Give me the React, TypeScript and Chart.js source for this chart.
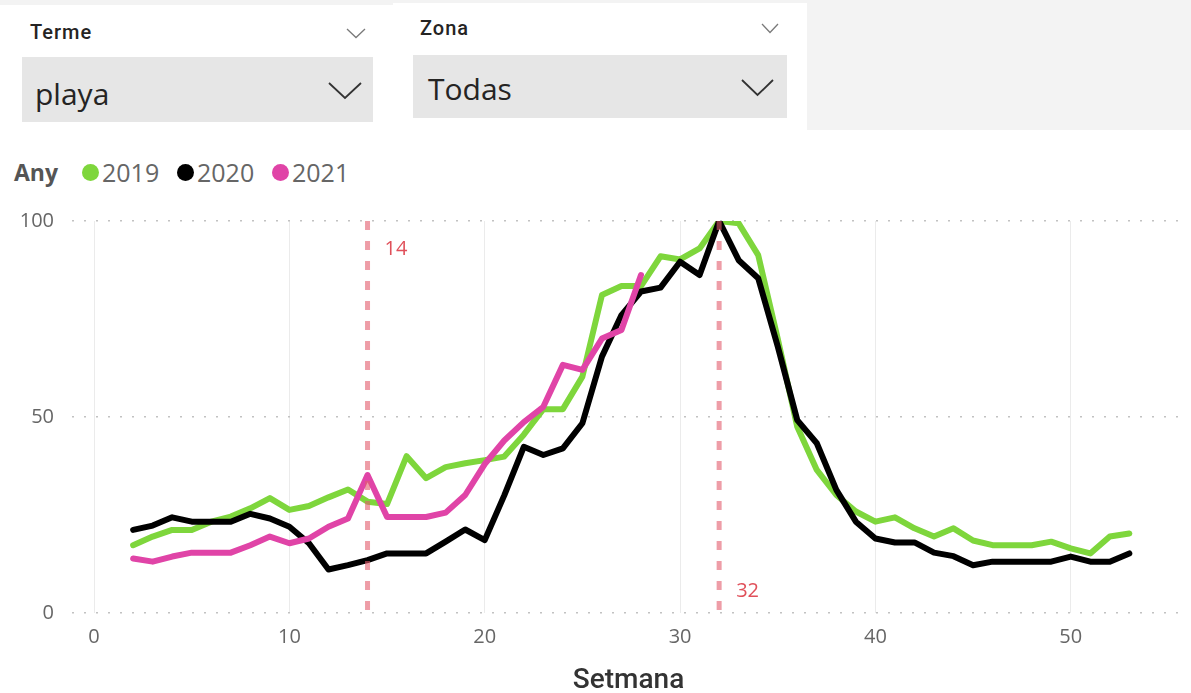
import React, { useEffect, useRef } from "react";
import { Chart, registerables } from "chart.js";

Chart.register(...registerables);

// ---- data ----
const weeks = [2, 3, 4, 5, 6, 7, 8, 9, 10, 11, 12, 13, 14, 15, 16, 17, 18, 19, 20, 21, 22, 23, 24, 25, 26, 27, 28, 29, 30, 31, 32, 33, 34, 35, 36, 37, 38, 39, 40, 41, 42, 43, 44, 45, 46, 47, 48, 49, 50, 51, 52, 53];
const weeks2021 = [2, 3, 4, 5, 6, 7, 8, 9, 10, 11, 12, 13, 14, 15, 16, 17, 18, 19, 20, 21, 22, 23, 24, 25, 26, 27, 28];

const values2019 = [17.3, 19.5, 21.2, 21.2, 23.3, 24.6, 26.7, 29.3, 26.3, 27.3, 29.5, 31.5, 28.4, 27.8, 40, 34.4, 37.2, 38.2, 39, 39.9, 45.5, 52, 52, 60.3, 81.1, 83.4, 83.4, 91, 90.2, 93, 100, 99.4, 91.3, 70, 47.5, 36.5, 30.1, 25.9, 23.3, 24.4, 21.6, 19.5, 21.6, 18.5, 17.3, 17.3, 17.3, 18.2, 16.5, 15.2, 19.5, 20.3];
const values2020 = [21.2, 22.3, 24.4, 23.3, 23.3, 23.3, 25.3, 24.1, 22, 17.8, 11.1, 12.2, 13.5, 15.2, 15.2, 15.2, 18.2, 21.3, 18.6, 30, 42.4, 40.3, 42, 48.4, 65.4, 76, 82, 83, 89.6, 86.2, 100, 90, 85.4, 68, 49.2, 43.3, 31.4, 23.3, 19, 18, 18, 15.4, 14.5, 12.2, 13.1, 13.1, 13.1, 13.1, 14.4, 13.1, 13.1, 15.2];
const values2021 = [13.9, 13.1, 14.4, 15.4, 15.4, 15.4, 17.3, 19.5, 17.8, 19, 22, 24.1, 35.2, 24.5, 24.5, 24.5, 25.6, 30.1, 38, 44, 48.7, 52.6, 63.3, 62, 70, 72.2, 86.2];

const seriesLabels = ["2019", "2020", "2021"];
const seriesColors = ["#7ed63c", "#000000", "#e044a7"];

const xTicks = [0, 10, 20, 30, 40, 50];
const yTicks = [0, 50, 100];

const refWeeks = [14, 32];
const refLabelPlaces = ["top", "bottom"];

const legendTitle = "Any";
const xTitle = "Setmana";
const slicer1Title = "Terme";
const slicer1Value = "playa";
const slicer2Title = "Zona";
const slicer2Value = "Todas";

const toPoints = (xs: number[], ys: number[]) => xs.map((x, i) => ({ x, y: ys[i] }));

const refLinePlugin = {
  id: "refLines",
  afterDatasetsDraw(chart: any) {
    const { ctx, chartArea, scales } = chart;
    refWeeks.forEach((w, i) => {
      const x = scales.x.getPixelForValue(w);
      ctx.save();
      ctx.strokeStyle = "rgba(226, 92, 108, 0.6)";
      ctx.lineWidth = 5;
      ctx.setLineDash([9, 11]);
      ctx.beginPath();
      ctx.moveTo(x, chartArea.top);
      ctx.lineTo(x, chartArea.bottom);
      ctx.stroke();
      ctx.setLineDash([]);
      ctx.fillStyle = "#e0505a";
      ctx.font = "20px 'Open Sans'";
      ctx.textAlign = "left";
      ctx.textBaseline = "middle";
      const y = refLabelPlaces[i] === "top" ? chartArea.top + 28 : chartArea.bottom - 22;
      ctx.fillText(String(w), x + 17, y);
      ctx.restore();
    });
  },
};

function LineChart() {
  const ref = useRef<HTMLCanvasElement | null>(null);
  useEffect(() => {
    if (!ref.current) return;
    const allValues = [values2019, values2020, values2021];
    const allWeeks = [weeks, weeks, weeks2021];
    const orders = [3, 2, 1];
    const chart = new Chart(ref.current, {
      type: "line",
      data: {
        datasets: seriesLabels.map((label, i) => ({
          label,
          data: toPoints(allWeeks[i], allValues[i]),
          borderColor: seriesColors[i],
          backgroundColor: seriesColors[i],
          borderWidth: 6,
          pointRadius: 0,
          tension: 0,
          borderJoinStyle: "round",
          borderCapStyle: "round",
          order: orders[i],
        })),
      },
      options: {
        animation: false,
        responsive: false,
        events: [],
        layout: { padding: { top: 21, right: 6, left: 0, bottom: 0 } },
        plugins: { legend: { display: false }, tooltip: { enabled: false } },
        scales: {
          x: {
            type: "linear",
            min: -1.13,
            max: 55.85,
            afterBuildTicks: (s: any) => {
              s.ticks = xTicks.map((v) => ({ value: v }));
            },
            afterFit: (s: any) => {
              s.height = 80;
              s.paddingLeft = 0;
              s.paddingRight = 0;
            },
            grid: { color: "#ebebeb", lineWidth: 1, drawTicks: false },
            border: { display: false },
            ticks: {
              font: { family: "'Open Sans'", size: 20 },
              color: "#666666",
              padding: 12,
              maxRotation: 0,
              autoSkip: false,
            },
            title: {
              display: true,
              text: xTitle,
              font: { family: "Roboto", size: 28, weight: "500", lineHeight: 1 },
              color: "#333333",
              padding: { top: 0, bottom: -2 },
            },
          },
          y: {
            type: "linear",
            min: 0,
            max: 100,
            afterBuildTicks: (s: any) => {
              s.ticks = yTicks.map((v) => ({ value: v }));
            },
            afterFit: (s: any) => {
              s.width = 72;
              s.paddingTop = 0;
              s.paddingBottom = 0;
            },
            grid: { color: "#c2c2c2", lineWidth: 1.5, drawTicks: false },
            border: { display: false, dash: [2, 10] },
            ticks: {
              font: { family: "'Open Sans'", size: 20 },
              color: "#666666",
              padding: 18,
            },
          },
        },
      },
      plugins: [refLinePlugin],
    } as any);
    return () => chart.destroy();
  }, []);
  return (
    <canvas
      ref={ref}
      width={1191}
      height={493}
      style={{ position: "absolute", left: 0, top: 200, width: 1191, height: 493 }}
    />
  );
}

function Chevron({ pts, color, w }: { pts: number[][]; color: string; w: number }) {
  return (
    <polyline
      points={pts.map((p) => p.join(",")).join(" ")}
      fill="none"
      stroke={color}
      strokeWidth={w}
    />
  );
}

export default function App() {
  const abs = (o: any) => ({ position: "absolute" as const, ...o });
  return (
    <div
      style={{
        position: "absolute",
        left: 0,
        top: 0,
        width: 1191,
        height: 693,
        background: "#ffffff",
        overflow: "hidden",
      }}
    >
      {/* top background */}
      <div style={abs({ left: 0, top: 0, width: 1191, height: 130, background: "#f3f3f3" })} />
      <div style={abs({ left: 0, top: 5, width: 393, height: 125, background: "#ffffff" })} />
      <div style={abs({ left: 393, top: 3, width: 414, height: 127, background: "#ffffff" })} />
      {/* dropdown boxes */}
      <div style={abs({ left: 22, top: 57, width: 351, height: 65, background: "#e6e6e6" })} />
      <div style={abs({ left: 413, top: 55, width: 374, height: 63, background: "#e6e6e6" })} />
      {/* slicer titles */}
      <div
        style={abs({
          left: 30,
          top: 20,
          fontFamily: "Roboto",
          fontWeight: 500,
          fontSize: 20,
          lineHeight: "24px",
          letterSpacing: "1px",
          color: "#252423",
          whiteSpace: "nowrap",
        })}
      >
        {slicer1Title}
      </div>
      <div
        style={abs({
          left: 420,
          top: 16,
          fontFamily: "Roboto",
          fontWeight: 500,
          fontSize: 20,
          lineHeight: "24px",
          letterSpacing: "1px",
          color: "#252423",
          whiteSpace: "nowrap",
        })}
      >
        {slicer2Title}
      </div>
      {/* slicer values */}
      <div
        style={abs({
          left: 35,
          top: 74,
          fontFamily: "'Open Sans'",
          fontSize: 30,
          lineHeight: "40px",
          color: "#252423",
          whiteSpace: "nowrap",
        })}
      >
        {slicer1Value}
      </div>
      <div
        style={abs({
          left: 428,
          top: 69,
          fontFamily: "'Open Sans'",
          fontSize: 30,
          lineHeight: "40px",
          color: "#252423",
          whiteSpace: "nowrap",
        })}
      >
        {slicer2Value}
      </div>
      <svg style={abs({ left: 0, top: 0 })} width={1191} height={140}>
        <Chevron pts={[[347, 29], [356, 37.5], [365, 29]]} color="#7a7a7a" w={1.3} />
        <Chevron pts={[[329, 83], [345, 98], [361, 83]]} color="#333333" w={1.8} />
        <Chevron pts={[[762, 24], [770, 32.5], [778, 24]]} color="#7a7a7a" w={1.3} />
        <Chevron pts={[[742, 80], [757.5, 95], [773, 80]]} color="#333333" w={1.8} />
      </svg>
      {/* legend */}
      <div
        style={abs({
          left: 14,
          top: 158,
          fontFamily: "'Open Sans'",
          fontWeight: 700,
          fontSize: 23,
          lineHeight: "28px",
          color: "#555555",
          whiteSpace: "nowrap",
        })}
      >
        {legendTitle}
      </div>
      {seriesLabels.map((lab, i) => {
        const cx = [90, 185, 280][i];
        return (
          <React.Fragment key={lab}>
            <div
              style={abs({
                left: cx - 8.5,
                top: 172 - 8.5,
                width: 17,
                height: 17,
                borderRadius: "50%",
                background: seriesColors[i],
              })}
            />
            <div
              style={abs({
                left: cx + 12,
                top: 158,
                fontFamily: "'Open Sans'",
                fontSize: 25,
                lineHeight: "28px",
                color: "#666666",
                whiteSpace: "nowrap",
              })}
            >
              {lab}
            </div>
          </React.Fragment>
        );
      })}
      <LineChart />
    </div>
  );
}
